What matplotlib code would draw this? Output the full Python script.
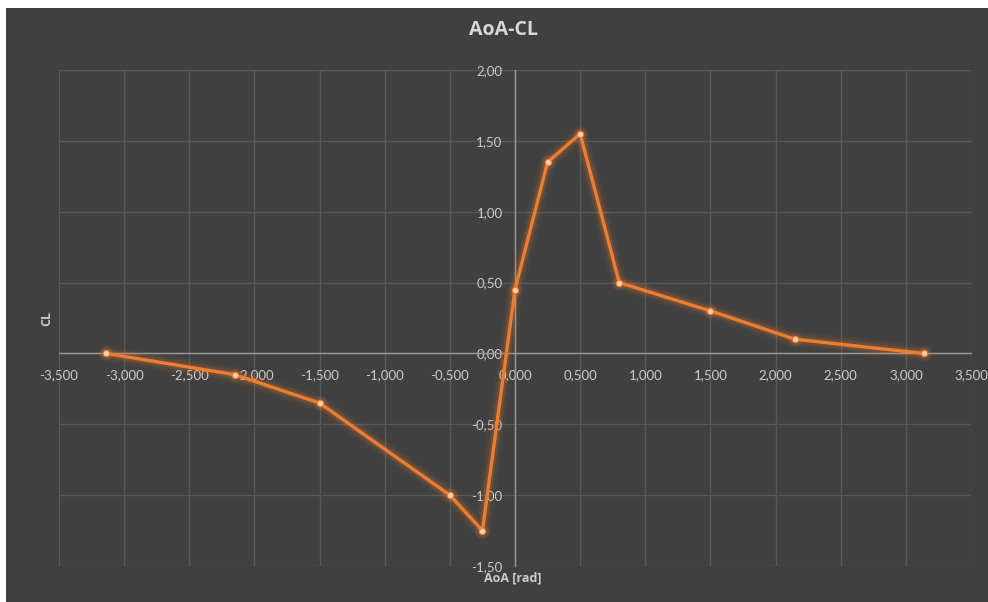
import matplotlib.pyplot as plt
from matplotlib.patches import Rectangle
from matplotlib.ticker import FuncFormatter, MultipleLocator

plt.rcParams['font.family'] = ['Lato', 'DejaVu Sans']

# AoA [rad] vs lift coefficient
aoa = [-3.14, -2.15, -1.5, -0.5, -0.25, 0.0, 0.25, 0.5, 0.8, 1.5, 2.15, 3.14]
cl = [0.0, -0.15, -0.35, -1.0, -1.25, 0.45, 1.35, 1.55, 0.5, 0.3, 0.1, 0.0]

bg = '#404040'
grid_c = '#595959'
txt_c = '#cccccc'
orange = '#ED7D31'

fig = plt.figure(figsize=(9.88, 6.02), dpi=100, facecolor='white')
fig.patches.append(Rectangle((6 / 988, 0), 1, 1 - 8 / 602, transform=fig.transFigure,
                             facecolor=bg, edgecolor='none', zorder=-10))

ax = fig.add_axes([59 / 988, 1 - 566 / 602, (971 - 59) / 988, (566 - 70) / 602])
ax.set_facecolor(bg)
ax.set_xlim(-3.5, 3.5)
ax.set_ylim(-1.5, 2.0)
ax.xaxis.set_major_locator(MultipleLocator(0.5))
ax.yaxis.set_major_locator(MultipleLocator(0.5))
ax.xaxis.set_major_formatter(FuncFormatter(lambda v, p: f'{v:.3f}'.replace('.', ',')))
ax.yaxis.set_major_formatter(FuncFormatter(lambda v, p: f'{v:.2f}'.replace('.', ',')))
ax.grid(True, color=grid_c, linewidth=1.0)
ax.set_axisbelow(True)

# axes cross at the origin
for s in ['top', 'right']:
    ax.spines[s].set_visible(False)
ax.spines['bottom'].set_position(('data', 0))
ax.spines['left'].set_position(('data', 0))
for s in ['bottom', 'left']:
    ax.spines[s].set_color('#9a9a9a')
    ax.spines[s].set_linewidth(1.0)
ax.tick_params(axis='both', length=0, colors=txt_c, labelsize=9.5)
ax.tick_params(axis='x', pad=11)
ax.tick_params(axis='y', pad=9)

# orange line with a soft glow
for w, a in [(12, 0.05), (8, 0.09), (5.5, 0.15)]:
    ax.plot(aoa, cl, color=orange, linewidth=w, alpha=a, solid_capstyle='round', zorder=3)
ax.plot(aoa, cl, color=orange, linewidth=2.4, zorder=4)
ax.plot(aoa, cl, linestyle='none', marker='o', markersize=10, color=orange, alpha=0.15,
        markeredgewidth=0, zorder=5)
ax.plot(aoa, cl, linestyle='none', marker='o', markersize=4.5, markerfacecolor='#f9d2b4',
        markeredgecolor=orange, markeredgewidth=0.8, zorder=6)

bold = ['Open Sans', 'DejaVu Sans']
fig.text(503.5 / 988, 1 - 30 / 602, 'AoA-CL', ha='center', va='center', family=bold,
         fontsize=14, fontweight='bold', color='#d9d9d9')
fig.text(513 / 988, 1 - 578 / 602, 'AoA [rad]', ha='center', va='center', family=bold,
         fontsize=9, fontweight='bold', color=txt_c)
fig.text(47 / 988, 1 - 318 / 602, 'CL', ha='center', va='center', rotation=90, family=bold,
         fontsize=9, fontweight='bold', color=txt_c)

fig.savefig('out.png', dpi=100, facecolor='white')
